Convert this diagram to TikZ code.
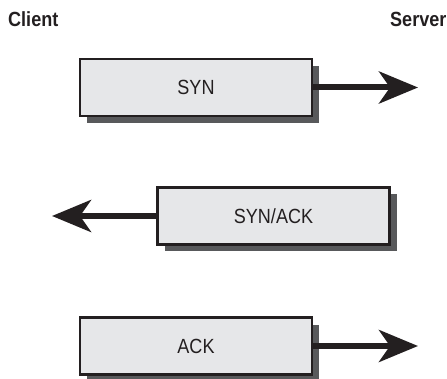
\documentclass[tikz,border=0pt]{standalone}
\usepackage{fontspec}
\setmainfont[FakeStretch=0.88]{Liberation Sans}
\usetikzlibrary{arrows.meta,shadows}

\definecolor{boxgray}{HTML}{E6E7E9}
\definecolor{shadegray}{HTML}{58595B}
\definecolor{inkblack}{HTML}{231F20}

\begin{document}
\begin{tikzpicture}[x=1pt, y=-1pt,
  packet/.style={draw=inkblack, line width=2.5pt, fill=boxgray, minimum width=232pt, minimum height=57pt, inner sep=0pt, font=\fontsize{20.5}{20.5}\selectfont, text=inkblack,
    drop shadow={shadow xshift=7pt, shadow yshift=-7pt, fill=shadegray, opacity=1}},
  flow/.style={draw=inkblack, line width=6pt, -{Stealth[length=39pt, width=32pt, inset=11pt]}},
  side/.style={inner sep=0pt, anchor=base west, font=\fontsize{20.5}{20.5}\selectfont\bfseries, text=inkblack}]

\useasboundingbox (0,0) rectangle (447,379);

\draw (8, 27) node[side] (client) {Client};

\draw (390, 27) node[side] (server) {Server};

\draw (196, 87.5) node[packet] (syn) {SYN};

\draw (273.5, 216) node[packet] (synack) {SYN/ACK};

\draw (196, 346) node[packet] (ack) {ACK};

\coordinate (synend) at (418, 87.5);
\coordinate (synackend) at (52, 216);
\coordinate (ackend) at (418, 346);

\draw[flow] (syn.east) -- (synend);
\draw[flow] (synack.west) -- (synackend);
\draw[flow] (ack.east) -- (ackend);

\end{tikzpicture}
\end{document}
